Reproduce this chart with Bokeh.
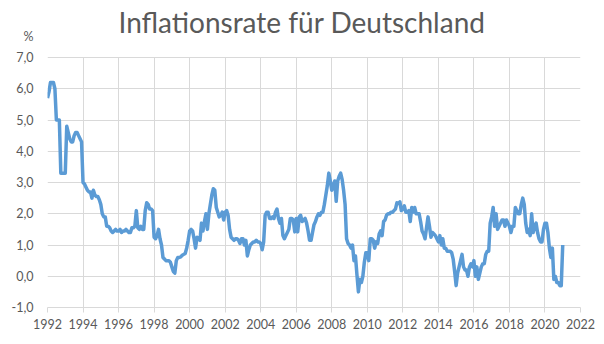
import numpy as np
from bokeh.plotting import figure
from bokeh.models import FixedTicker, Range1d, Grid
from bokeh.core.properties import value
from bokeh.embed import file_html
from bokeh.resources import INLINE

# ---- data: monthly inflation rate (%), Jan 1992 .. Jan 2021 ----
start_year = 1992
y1992 = [5.7, 5.9, 6.2, 6.2, 6.2, 6.0, 5.0, 5.0, 5.0, 3.3, 3.3, 3.3]
y1993 = [3.3, 4.8, 4.6, 4.4, 4.3, 4.3, 4.5, 4.6, 4.6, 4.5, 4.4, 4.3]
y1994 = [3.0, 2.95, 2.85, 2.75, 2.7, 2.7, 2.5, 2.75, 2.6, 2.55, 2.55, 2.45]
y1995 = [2.3, 2.0, 1.9, 1.9, 1.6, 1.6, 1.55, 1.45, 1.4, 1.45, 1.5, 1.45]
y1996 = [1.45, 1.5, 1.4, 1.45, 1.45, 1.5, 1.45, 1.4, 1.4, 1.55, 1.55, 1.6]
y1997 = [2.1, 1.55, 1.5, 1.6, 1.5, 1.5, 2.1, 2.35, 2.3, 2.15, 2.15, 2.1]
y1998 = [1.25, 1.2, 1.3, 1.5, 1.2, 1.0, 0.6, 0.55, 0.5, 0.5, 0.5, 0.45]
y1999 = [0.3, 0.15, 0.1, 0.5, 0.6, 0.6, 0.62, 0.67, 0.7, 0.73, 0.9, 1.15]
y2000 = [1.45, 1.5, 1.45, 1.2, 0.9, 1.25, 1.2, 1.15, 1.7, 1.45, 1.75, 2.0]
y2001 = [1.5, 2.0, 2.3, 2.6, 2.8, 2.75, 2.2, 2.05, 1.9, 1.95, 2.05, 1.8]
y2002 = [2.05, 2.1, 1.95, 1.5, 1.25, 1.2, 1.15, 1.2, 1.2, 1.15, 1.05, 1.2]
y2003 = [1.2, 1.0, 1.15, 0.65, 0.85, 1.0, 1.05, 1.1, 1.1, 1.15, 1.1, 1.1]
y2004 = [1.05, 0.85, 1.1, 1.95, 2.05, 2.05, 1.85, 1.85, 1.9, 1.85, 2.05, 2.15]
y2005 = [1.85, 1.7, 1.85, 1.3, 1.2, 1.3, 1.4, 1.5, 1.85, 1.85, 1.8, 1.42]
y2006 = [1.85, 1.42, 1.9, 1.95, 1.75, 1.8, 1.85, 1.7, 1.45, 1.15, 1.15, 1.4]
y2007 = [1.65, 1.75, 1.9, 2.0, 1.95, 2.05, 2.05, 2.3, 2.6, 2.9, 3.3, 3.05]
y2008 = [2.75, 2.9, 3.05, 2.4, 3.05, 3.2, 3.3, 3.1, 2.75, 2.3, 1.2, 1.05]
y2009 = [1.0, 0.9, 1.0, 0.5, 0.65, 0.05, -0.5, -0.1, -0.2, 0.0, 0.45, 0.75]
y2010 = [0.75, 0.5, 1.2, 1.2, 1.15, 0.9, 1.1, 1.05, 1.35, 1.45, 1.3, 1.75]
y2011 = [1.8, 1.95, 2.0, 2.0, 2.05, 2.05, 2.1, 2.15, 2.35, 2.33, 2.38, 2.1]
y2012 = [2.15, 2.25, 2.05, 2.05, 2.1, 1.75, 2.2, 2.05, 2.2, 2.0, 2.0, 2.0]
y2013 = [1.75, 1.45, 1.35, 1.2, 1.55, 1.9, 1.6, 1.25, 1.4, 1.35, 1.3, 1.2]
y2014 = [1.1, 1.3, 1.0, 1.2, 0.9, 0.9, 0.8, 0.8, 0.8, 0.75, 0.55, 0.15]
y2015 = [-0.3, 0.1, 0.3, 0.5, 0.7, 0.3, 0.2, 0.2, 0.0, 0.3, 0.4, 0.3]
y2016 = [0.5, 0.0, 0.3, -0.1, 0.1, 0.3, 0.4, 0.4, 0.7, 0.8, 0.8, 1.7]
y2017 = [1.9, 2.2, 1.6, 2.0, 1.5, 1.6, 1.7, 1.8, 1.8, 1.6, 1.8, 1.7]
y2018 = [1.6, 1.4, 1.6, 1.6, 2.2, 2.1, 2.0, 2.0, 2.3, 2.5, 2.3, 1.7]
y2019 = [1.4, 1.5, 1.3, 2.0, 1.4, 1.6, 1.7, 1.4, 1.2, 1.1, 1.1, 1.5]
y2020 = [1.7, 1.7, 1.4, 0.9, 0.6, 0.9, -0.1, 0.0, -0.2, -0.2, -0.3, -0.3]
y2021 = [1.0]

x_ticks = list(range(1992, 2023, 2))
y_ticks = [-1, 0, 1, 2, 3, 4, 5, 6, 7]
y_tick_labels = ["-1,0", "0,0", "1,0", "2,0", "3,0", "4,0", "5,0", "6,0", "7,0"]
title_text = "Inflationsrate für Deutschland"
unit_text = "%"

values = (y1992 + y1993 + y1994 + y1995 + y1996 + y1997 + y1998 + y1999 + y2000 +
          y2001 + y2002 + y2003 + y2004 + y2005 + y2006 + y2007 + y2008 + y2009 +
          y2010 + y2011 + y2012 + y2013 + y2014 + y2015 + y2016 + y2017 + y2018 +
          y2019 + y2020 + y2021)
xs = start_year + np.arange(len(values)) / 12.0

GRID = "#d9d9d9"
TXT = "#595959"
FONT = "Lato"

# layout geometry (pixels): plot frame spans the full height above the x axis;
# the value grid (-1..7) occupies its lower 250 px, title and unit sit in the top 57 px
H, BOTTOM, TOPGAP, GRIDH = 344, 37, 57, 250
px_per_unit = GRIDH / (y_ticks[-1] - y_ticks[0])
y_top = y_ticks[-1] + TOPGAP / px_per_unit
px_per_year = (604 - 47 - 24) / (x_ticks[-1] - x_ticks[0])

unit_pos = y_ticks[-1] + (TOPGAP - 36) / px_per_unit      # unit label centre near the top-left
title_y = y_ticks[-1] + (TOPGAP - 21) / px_per_unit       # title baseline position
title_x = x_ticks[0] + 71 / px_per_year                   # title starts 71 px right of frame

p = figure(width=604, height=H, output_backend="svg", toolbar_location=None,
           x_range=Range1d(x_ticks[0], x_ticks[-1]), y_range=Range1d(y_ticks[0], y_top),
           min_border_left=47, min_border_right=24, min_border_top=0, min_border_bottom=BOTTOM)
p.outline_line_color = None
p.background_fill_color = "white"
p.border_fill_color = "white"

xa = p.xaxis[0]
xa.ticker = FixedTicker(ticks=x_ticks)
xa.major_label_overrides = {t: str(t) for t in x_ticks}
xa.axis_line_color = GRID
xa.major_tick_line_color = GRID
xa.major_tick_out = 5
xa.major_tick_in = 0
xa.minor_tick_line_color = None
xa.major_label_standoff = 6
xa.major_label_text_font = FONT
xa.major_label_text_font_size = "12.5px"
xa.major_label_text_color = TXT

ya = p.yaxis[0]
ya.ticker = FixedTicker(ticks=y_ticks + [unit_pos])
overrides = dict(zip(y_ticks, y_tick_labels))
overrides[unit_pos] = unit_text
ya.major_label_overrides = overrides
ya.axis_line_color = None
ya.major_tick_line_color = None
ya.major_tick_out = 0
ya.major_tick_in = 0
ya.minor_tick_line_color = None
ya.major_label_standoff = 14
ya.major_label_text_font = FONT
ya.major_label_text_font_size = "12.5px"
ya.major_label_text_color = TXT

p.ygrid.ticker = FixedTicker(ticks=y_ticks)
p.ygrid.grid_line_color = GRID
if "cross_bounds" in Grid.properties():
    p.xgrid.grid_line_color = GRID
    p.xgrid.cross_bounds = (y_ticks[0], y_ticks[-1])
else:
    p.xgrid.grid_line_color = None
    p.segment(x0=x_ticks, y0=[y_ticks[0]] * len(x_ticks), x1=x_ticks,
              y1=[y_ticks[-1]] * len(x_ticks), line_color=GRID, line_width=1)

p.line(xs, values, line_color="#5b9bd5", line_width=3.5, line_join="round")

p.text(x=[title_x], y=[title_y], text=[title_text], text_font=value(FONT),
       text_font_size="28px", text_color=TXT, text_align="left",
       text_baseline="alphabetic")

open("out.html", "w").write(file_html(p, INLINE))
